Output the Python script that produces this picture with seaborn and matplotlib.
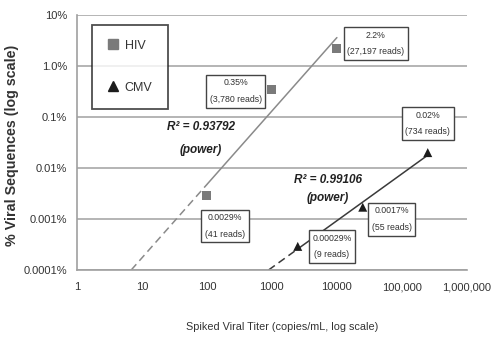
import numpy as np
import pandas as pd
import matplotlib
matplotlib.use('Agg')
import matplotlib.pyplot as plt
import seaborn as sns
from matplotlib.lines import Line2D

# ---- data ----
virus = ['HIV', 'HIV', 'HIV', 'CMV', 'CMV', 'CMV']
titer = [100, 1000, 10000, 2500, 25000, 250000]
pct = [0.0029, 0.35, 2.2, 0.00029, 0.0017, 0.02]
pct_labels = ['0.0029%', '0.35%', '2.2%', '0.00029%', '0.0017%', '0.02%']
read_labels = ['(41 reads)', '(3,780 reads)', '(27,197 reads)',
               '(9 reads)', '(55 reads)', '(734 reads)']
r2_labels = {'HIV': 'R² = 0.93792', 'CMV': 'R² = 0.99106'}
fit_kind = '(power)'
xticks = [1, 10, 100, 1000, 10000, 100000, 1000000]
xticklabels = ['1', '10', '100', '1000', '10000', '100,000', '1,000,000']
yticks = [0.0001, 0.001, 0.01, 0.1, 1, 10]
yticklabels = ['0.0001%', '0.001%', '0.01%', '0.1%', '1.0%', '10%']

df = pd.DataFrame({'virus': virus, 'titer': titer, 'pct': pct,
                   'plabel': pct_labels, 'rlabel': read_labels})

# ---- styling ----
sns.set_style('white')
plt.rcParams['font.family'] = ['Liberation Sans', 'DejaVu Sans']
txt = '#333333'
colors = {'HIV': '#7a7a7a', 'CMV': '#1c1c1c'}
line_colors = {'HIV': '#8a8a8a', 'CMV': '#3a3a3a'}
markers = {'HIV': 's', 'CMV': '^'}
# label box offsets (points) relative to each data point
offsets = [(13, -22), (-26, -1.5), (28, 3.5), (24.5, 0), (21, -8.6), (0, 21)]
# R^2 label positions (data coords)
r2_pos = {'HIV': (80, 0.064, 0.0225), 'CMV': (7300, 0.0058, 0.0026)}

fig = plt.figure(figsize=(4.93, 3.40), dpi=100)
ax = fig.add_axes([0.156, 0.206, 0.791, 0.75])
ax.set_xscale('log')
ax.set_yscale('log')
ax.set_xlim(1, 1e6)
ax.set_ylim(1e-4, 10)

# gridlines
for yv in yticks:
    ax.axhline(yv, color='#a8a8a8', lw=1.2, zorder=0)

# power-law fits (linear in log-log)
ymin = 1e-4
for v in ['HIV', 'CMV']:
    sub = df[df.virus == v]
    lx = np.log10(sub.titer.values)
    ly = np.log10(sub.pct.values)
    b, a = np.polyfit(lx, ly, 1)
    x0 = (np.log10(ymin) - a) / b
    xs_solid = np.linspace(lx.min(), lx.max(), 50)
    xs_dash = np.linspace(x0, lx.min(), 50)
    ax.plot(10 ** xs_solid, 10 ** (a + b * xs_solid), color=line_colors[v], lw=1.1, zorder=2)
    ax.plot(10 ** xs_dash, 10 ** (a + b * xs_dash), color=line_colors[v], lw=1.1,
            ls=(0, (5, 3)), zorder=2)

sns.scatterplot(data=df, x='titer', y='pct', hue='virus', style='virus',
                palette=colors, markers=markers, s=42, edgecolor='none',
                legend=False, ax=ax, zorder=3)

# value labels
for (i, row), off in zip(df.iterrows(), offsets):
    ax.annotate(row.plabel + '\n' + row.rlabel, (row.titer, row.pct),
                xytext=off, textcoords='offset points', ha='center', va='center',
                fontsize=6.3, color=txt, linespacing=2.1,
                bbox=dict(boxstyle='square,pad=0.4', fc='white', ec='#444444', lw=1.0),
                zorder=4)

# R^2 labels
for v in ['HIV', 'CMV']:
    x, y1, y2 = r2_pos[v]
    ax.text(x, y1, r2_labels[v], ha='center', va='center', fontsize=8.5,
            fontweight='bold', style='italic', color='#222222')
    ax.text(x, y2, fit_kind, ha='center', va='center', fontsize=8.5,
            fontweight='bold', style='italic', color='#222222')

# legend
handles = [Line2D([], [], ls='none', marker=markers[v], color=colors[v], markersize=6.5)
           for v in ['HIV', 'CMV']]
leg = ax.legend(handles, ['HIV', 'CMV'], loc='upper left', bbox_to_anchor=(0.038, 0.962),
                frameon=True, fancybox=False, borderpad=1.2, labelspacing=2.4,
                handlelength=1.0, handletextpad=0.45, fontsize=9, borderaxespad=0)
leg.get_frame().set_edgecolor('#222222')
leg.get_frame().set_linewidth(1.3)
for t in leg.get_texts():
    t.set_color(txt)

# axes
ax.set_xticks(xticks)
ax.set_xticklabels(xticklabels)
ax.set_yticks(yticks)
ax.set_yticklabels(yticklabels)
ax.minorticks_off()
ax.tick_params(axis='both', labelsize=8, colors='#a0a0a0', labelcolor=txt,
               length=5, width=1.2, direction='out')
ax.tick_params(axis='x', pad=4)
ax.tick_params(axis='y', pad=2)
for s in ['top', 'right']:
    ax.spines[s].set_visible(False)
for s in ['left', 'bottom']:
    ax.spines[s].set_color('#a0a0a0')
    ax.spines[s].set_linewidth(1.2)

ax.set_xlabel('Spiked Viral Titer (copies/mL, log scale)', fontsize=7.8, color=txt)
ax.xaxis.set_label_coords(0.526, -0.205)
ax.set_ylabel('% Viral Sequences (log scale)', fontsize=10.3, color=txt, fontweight='bold')
ax.yaxis.set_label_coords(-0.149, 0.49)

fig.savefig('out.png', dpi=100)
